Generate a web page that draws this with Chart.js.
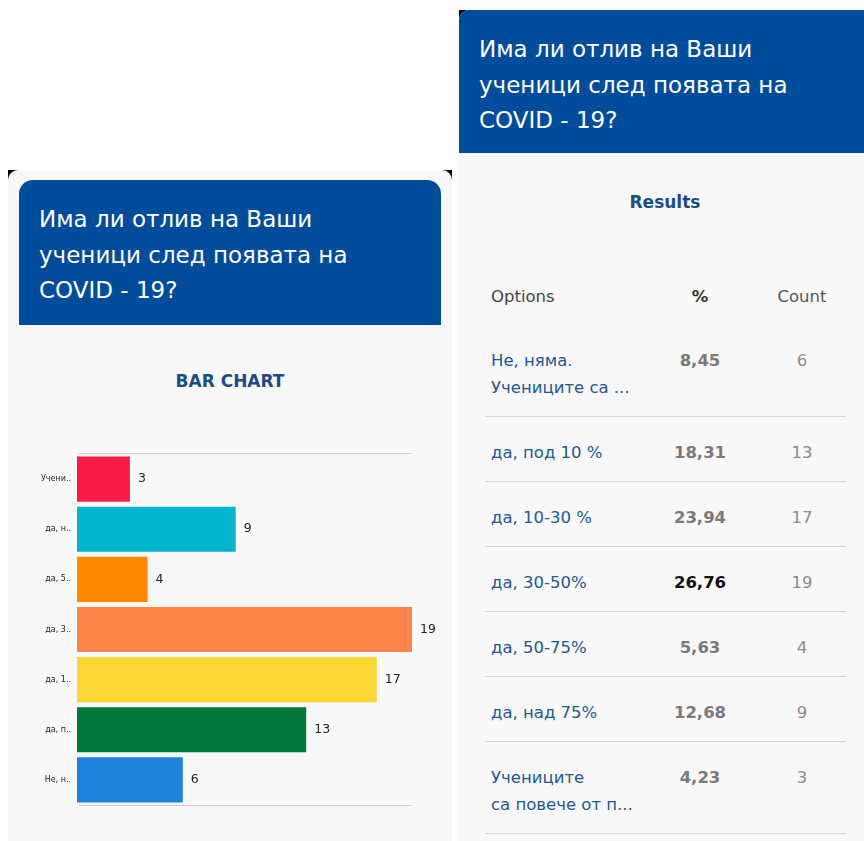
<!DOCTYPE html>
<html>
<head>
<meta charset="utf-8">
<script src="https://cdn.jsdelivr.net/npm/chart.js@4"></script>
<style>
  html, body { margin: 0; padding: 0; background: #fff; }
  body { width: 864px; height: 841px; position: relative; overflow: hidden; font-family: "DejaVu Sans", sans-serif; }
  .black { position: absolute; background: #000; }
  .panel { position: absolute; background: #f8f8f8; }
  .head { position: absolute; background: #024c9c; color: #fff; font-size: 23px; line-height: 35.5px; box-sizing: border-box; }
  .subtitle { position: absolute; color: #1b4c84; font-weight: 700; font-size: 17px; text-align: center; }
  .row { position: absolute; left: 485px; width: 361px; border-bottom: 1px solid #d6d6d6; font-size: 16.5px; line-height: 27px; }
  .row span { position: absolute; white-space: nowrap; }
  .opt { left: 6px; color: #1d5a94; white-space: pre !important; }
  .pct { left: 215px; transform: translateX(-50%); color: #7a7a7a; font-weight: 600; }
  .cnt { left: 317px; transform: translateX(-50%); color: #8c8c8c; }
  .pct.max { color: #111; font-weight: 700; }
  #chartBox { position: absolute; left: 19px; top: 440px; width: 433px; height: 380px; }
</style>
</head>
<body>
<!-- left screenshot -->
<div class="black" style="left:8px; top:170px; width:444px; height:14px;"></div>
<div class="panel" style="left:8px; top:170px; width:444px; height:671px; border-radius:10px 10px 0 0;"></div>
<div class="head" style="left:19px; top:180px; width:422px; height:145px; padding:22px 0 0 20px; border-radius:14px 14px 0 0;">Има ли отлив на Ваши<br>ученици след появата на<br>COVID - 19?</div>
<div class="subtitle" style="left:19px; top:371px; width:422px;">BAR CHART</div>
<div id="chartBox"><canvas id="barChart"></canvas></div>

<!-- right screenshot -->
<div class="black" style="left:459px; top:10px; width:405px; height:14px;"></div>
<div class="panel" style="left:459px; top:10px; width:405px; height:831px; border-radius:10px 0 0 0;"></div>
<div class="head" style="left:459px; top:10px; width:405px; height:143px; padding:22px 0 0 20px; border-radius:10px 0 0 0;">Има ли отлив на Ваши<br>ученици след появата на<br>COVID - 19?</div>
<div class="subtitle" style="left:459px; top:192px; width:412px;">Results</div>
<div id="table"></div>

<script>
// отговорите, в реда на таблицата
const options = ['Не, няма.\nУчениците са ...', 'да, под 10 %', 'да, 10-30 %', 'да, 30-50%', 'да, 50-75%', 'да, над 75%', 'Учениците\nса повече от п...'];
const counts = [6, 13, 17, 19, 4, 9, 3];
const percents = ['8,45', '18,31', '23,94', '26,76', '5,63', '12,68', '4,23'];
const barColors = ['#1f82dd', '#01773b', '#f9d632', '#fa854b', '#fe8901', '#03b5cd', '#f81b48'];

// таблица с резултати
const table = document.getElementById('table');
let html = '<div class="row" style="top:283px; height:0; border:none;">' +
  '<span class="opt" style="color:#444">Options</span>' +
  '<span class="pct" style="color:#333; font-weight:700">%</span>' +
  '<span class="cnt" style="color:#555">Count</span></div>';
let rowTop = 325;
const maxCount = Math.max(...counts);
options.forEach((opt, i) => {
  const lines = opt.split('\n').length;
  const h = 38 + lines * 27;
  html += `<div class="row" style="top:${rowTop}px; height:${h - 1}px;">` +
    `<span class="opt" style="top:22px">${opt}</span>` +
    `<span class="pct${counts[i] === maxCount ? ' max' : ''}" style="top:22px">${percents[i]}</span>` +
    `<span class="cnt" style="top:22px">${counts[i]}</span></div>`;
  rowTop += h;
});
table.innerHTML = html;

// рамка горе и долу на графиката
const frameLines = {
  id: 'frameLines',
  beforeDatasetsDraw(chart) {
    const { ctx, chartArea: a } = chart;
    ctx.save();
    ctx.strokeStyle = '#cfcfcf';
    ctx.lineWidth = 1;
    ctx.beginPath();
    ctx.moveTo(a.left, a.top - 0.5); ctx.lineTo(a.right, a.top - 0.5);
    ctx.moveTo(a.left, a.bottom + 0.5); ctx.lineTo(a.right, a.bottom + 0.5);
    ctx.stroke();
    ctx.restore();
  }
};

// стойностите вдясно от стълбовете
const valueLabels = {
  id: 'valueLabels',
  afterDatasetsDraw(chart) {
    const { ctx } = chart;
    const meta = chart.getDatasetMeta(0);
    ctx.save();
    ctx.fillStyle = '#222';
    ctx.font = '12.5px "DejaVu Sans", sans-serif';
    ctx.textBaseline = 'middle';
    meta.data.forEach((bar, i) => {
      ctx.fillText(counts[i], bar.x + 8, bar.y);
    });
    ctx.restore();
  }
};

new Chart(document.getElementById('barChart'), {
  type: 'bar',
  data: {
    labels: options,
    datasets: [{
      data: counts,
      backgroundColor: barColors,
      borderWidth: 0,
      barPercentage: 0.9,
      categoryPercentage: 1
    }]
  },
  options: {
    indexAxis: 'y',
    responsive: true,
    maintainAspectRatio: false,
    animation: false,
    layout: { padding: { top: 14, right: 40, bottom: 15, left: 0 } },
    plugins: { legend: { display: false }, tooltip: { enabled: false } },
    scales: {
      x: { display: false, min: 0, max: 19 },
      y: {
        reverse: true,
        grid: { display: false, drawTicks: false },
        border: { display: false },
        afterFit: (s) => { s.width = 58; },
        ticks: {
          padding: 6,
          color: '#222',
          font: { size: 8, family: '"DejaVu Sans", sans-serif' },
          callback: function (value) {
            return this.getLabelForValue(value).replace('\n', ' ').slice(0, 5) + '..';
          }
        }
      }
    }
  },
  plugins: [frameLines, valueLabels]
});
</script>
</body>
</html>
